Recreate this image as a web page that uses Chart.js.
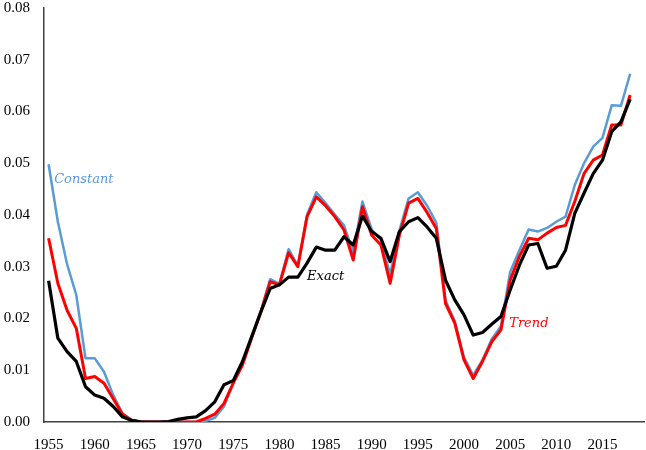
<!DOCTYPE html>
<html>
<head>
<meta charset="utf-8">
<script src="https://cdn.jsdelivr.net/npm/chart.js@4/dist/chart.umd.min.js"></script>
<style>
  html, body { margin:0; padding:0; background:#fff; }
  #wrap { width:646px; height:450px; position:relative; }
</style>
</head>
<body>
<div id="wrap"><canvas id="c"></canvas></div>
<script>
// ── 데이터 ───────────────────────────────────────────
const years = [];
for (let y = 1955; y <= 2019; y++) years.push(String(y));

const constant = [
  0.0498,0.0387,0.0305,0.0245,0.0123,0.0123,0.0097,0.0052,0.0017,0.0004,
  0.0001,0,0,0,0,0,0,0.0002,0.0008,0.0030,
  0.0075,0.0115,0.0165,0.0215,0.0276,0.0267,0.0334,0.0302,0.0401,0.0444,
  0.0423,0.0401,0.0380,0.0328,0.0426,0.0372,0.0352,0.0285,0.0370,0.0432,
  0.0444,0.0418,0.0385,0.0235,0.0195,0.0125,0.0090,0.0120,0.0160,0.0185,
  0.0290,0.0332,0.0372,0.0368,0.0375,0.0387,0.0397,0.0458,0.0500,0.0532,
  0.0549,0.0612,0.0611,0.0673
];
const trend = [
  0.0355,0.0268,0.0216,0.0181,0.0084,0.0088,0.0075,0.0045,0.0015,0.0003,
  0,0,0,0,0,0,0,0.0007,0.0015,0.0036,
  0.0075,0.0110,0.0163,0.0213,0.0271,0.0265,0.0327,0.0300,0.0397,0.0435,
  0.0418,0.0397,0.0371,0.0313,0.0416,0.0361,0.0342,0.0268,0.0361,0.0423,
  0.0432,0.0405,0.0374,0.0229,0.0191,0.0120,0.0084,0.0117,0.0155,0.0178,
  0.0274,0.0320,0.0355,0.0352,0.0365,0.0376,0.0380,0.0426,0.0480,0.0506,
  0.0516,0.0574,0.0574,0.0632
];
const exact = [
  0.0273,0.0162,0.0136,0.0117,0.0068,0.0052,0.0046,0.0030,0.0010,0.0003,
  0,0,0,0.0001,0.0005,0.0008,0.0010,0.0022,0.0039,0.0072,
  0.0080,0.0117,0.0165,0.0213,0.0258,0.0265,0.0280,0.0280,0.0307,0.0338,
  0.0332,0.0332,0.0358,0.0342,0.0398,0.0368,0.0355,0.0310,0.0368,0.0387,
  0.0395,0.0377,0.0355,0.0274,0.0236,0.0207,0.0168,0.0173,0.0189,0.0204,
  0.0255,0.0303,0.0342,0.0345,0.0297,0.0301,0.0332,0.0403,0.0442,0.0480,
  0.0506,0.0561,0.0580,0.0624
];

// 선 이름표 (카테고리 인덱스, 값)
const seriesLabels = [
  { text:"Constant", color:"#5b9bd5", x:0.6,  y:0.0468 },
  { text:"Exact",    color:"#000000", x:28.0, y:0.0281 },
  { text:"Trend",    color:"#ff0000", x:49.9, y:0.0190 },
];

// ── 이름표 플러그인 ───────────────────────────────────
const labelPlugin = {
  id:"seriesLabels",
  afterDatasetsDraw(c) {
    const { ctx, scales } = c;
    ctx.save();
    ctx.font = "italic 13px 'DejaVu Serif', serif";
    ctx.textAlign = "left";
    ctx.textBaseline = "middle";
    seriesLabels.forEach(l => {
      ctx.fillStyle = l.color;
      ctx.fillText(l.text, scales.x.getPixelForValue(l.x), scales.y.getPixelForValue(l.y));
    });
    ctx.restore();
  }
};

// ── 차트 ─────────────────────────────────────────────
const tickFont = { family:"'Liberation Serif', serif", size:15 };

new Chart(document.getElementById("c").getContext("2d"), {
  type:"line",
  data:{
    labels: years,
    datasets:[
      { label:"Exact",    data:exact,    borderColor:"#000000", borderWidth:3.2, pointRadius:0, tension:0, borderJoinStyle:"round" },
      { label:"Trend",    data:trend,    borderColor:"#ff0000", borderWidth:3,   pointRadius:0, tension:0, borderJoinStyle:"round" },
      { label:"Constant", data:constant, borderColor:"#5b9bd5", borderWidth:2.5, pointRadius:0, tension:0, borderJoinStyle:"round" },
    ]
  },
  options:{
    responsive:true, maintainAspectRatio:false,
    animation:false,
    layout:{ padding:{ top:8, right:2, left:0, bottom:0 } },
    scales:{
      x:{
        type:"category",
        offset:true,
        grid:{ display:false, drawTicks:false },
        border:{ display:true, color:"#404040", width:1.5 },
        ticks:{
          color:"#000", font:tickFont, padding:14,
          autoSkip:false, maxRotation:0,
          callback:(v,i)=> (1955+i)%5===0 && i<64 ? years[i] : "",
        },
        // 틱 padding이 좌우 여백에 더해지지 않게
        afterFit:(a)=>{ a.height = 28; a.paddingLeft = 0; a.paddingRight = 0; },
      },
      y:{
        min:0, max:0.08,
        grid:{ display:false, drawTicks:false },
        border:{ display:true, color:"#404040", width:1.5 },
        ticks:{ color:"#000", font:tickFont, stepSize:0.01, padding:14,
          callback:(v)=>v.toFixed(2) },
        afterFit:(a)=>{ a.width = 44; a.paddingTop = 0; a.paddingBottom = 0; },
      },
    },
    plugins:{ legend:{ display:false }, tooltip:{ enabled:false } },
  },
  plugins:[labelPlugin],
});
</script>
</body>
</html>
